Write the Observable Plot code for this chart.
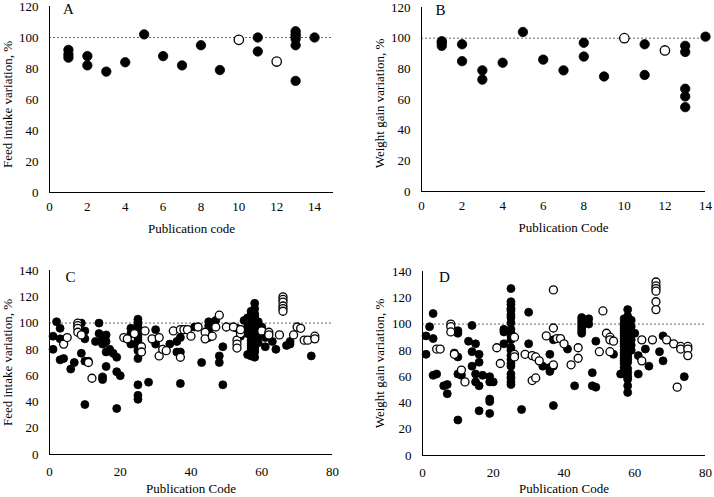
<!DOCTYPE html>
<html><head><meta charset="utf-8">
<script src="https://cdn.jsdelivr.net/npm/d3@7"></script>
<script src="https://cdn.jsdelivr.net/npm/@observablehq/plot@0.6"></script>
<style>
body{margin:0;background:#fff;}
#wrap{position:relative;width:714px;height:497px;background:#fff;overflow:hidden;}
#wrap svg{position:absolute;}
</style></head><body><div id="wrap"></div>
<script>
// ---------- tick labels ----------
const xTicksAB = [0,2,4,6,8,10,12,14];
const yTicksAB = [0,20,40,60,80,100,120];
const xTicksCD = [0,20,40,60,80];
const yTicksCD = [0,20,40,60,80,100,120,140];

// ---------- Panel A: feed intake (14 publications) ----------
const A_filled = [[1,92],[1,89],[1,87],[2,88],[2,82],[3,78],[4,84],[5,102],[6,88],[7,82],[8,95],[9,79],
  [11,100],[11,91],[13,104],[13,102],[13,101],[13,99],[13,95],[13,72],[14,100]];
const A_open = [[10,98.5],[12,84.5]];

// ---------- Panel B: weight gain (14 publications) ----------
const B_filled = [[1,98],[1,97],[1,95],[2,96],[2,85],[3,79],[3,73],[4,84],[5,104],[6,86],[7,79],[8,97],[8,88],
  [9,75],[11,96],[11,76],[13,95],[13,91],[13,67],[13,62],[13,55],[14,101]];
const B_open = [[10,100],[12,92]];

// ---------- Panel C: feed intake (75 publications) ----------
const C_filled = [[1,90],[1,80],[2,101],[3,96],[3,88],[3,72],[4,73],[6,65],[7,70],[9,100],[9,77],[10,94],[10,88],
  [10,71],[11,71],[10,38],[13,86],[14,100],[14,92],[15,89],[15,84],[15,59],[15,57],[16,91],[16,86],[16,78],[16,67],
  [17,80],[18,77],[19,74],[19,63],[20,60],[19,35],[23,96],[23,92],[23,84],
  [25,103],[25,101],[25,99],[25,97],[25,95],[25,93],[25,91],[25,89],[25,87],[25,85],[25,83],[25,81],[25,79],[25,73],
  [25,53],[25,45],[25,42],
  [28,55],[30,95],[30,84],[34,84],[36,78],[36,86],[37,89],[37,78],[37,54],[41,97],[43,70],[45,101],[45,98],[45,95],
  [45,92],[45,89],[47,102],[48,75],[48,70],[49,82],[49,53],[53,96],[54,90],[54,95],[55,102],[56,104],[56,97],[56,92],[56,76],
  [57,109],[57,106],[57,104],[57,102],[57,100],[57,99],[57,97],[57,96],[57,94],[57,92],[57,91],[57,89],[57,87],[57,85],
  [57,83],[57,81],[57,79],[57,77],[57,75],
  [58,115],[58,111],[58,107],[58,105],[58,103],[58,101],[58,100],[58,98],[58,97],[58,95],[58,93],[58,90],[58,88],[58,86],
  [58,84],[58,82],[58,80],[58,78],[58,74],
  [59,101],[59,96],[59,90],[59,85],[60,93],[60,97],[61,82],[61,89],[63,86],[64,80],[67,83],[68,84],[68,86],[74,75]];
const C_open = [[4,84],[5,89],[8,100],[8,98],[8,96],[8,93],[9,91],[11,70],[12,58],[21,89],[22,88],[24,92],[26,82],[26,78],
  [27,94],[29,88],[31,75],[31,89],[32,80],[33,79],[35,94],[37,95],[37,74],[38,95],[39,95],[40,90],[42,97],[44,93],[44,88],
  [46,90],[47,97],[48,106],[50,97],[52,97],[53,87],[53,84],[53,81],[54,92],[54,95],[60,94],[62,93],[62,91],[65,91],
  [66,120],[66,118],[66,116],[66,113],[66,111],[66,109],[69,91],[70,97],[71,96],[72,87],[73,87],[75,90],[75,88]];

// ---------- Panel D: weight gain (75 publications) ----------
const D_filled = [[1,91],[1,77],[2,98],[3,108],[3,89],[3,61],[4,62],[7,54],[7,47],[6,53],[9,78],[10,95],[10,93],[10,75],
  [10,62],[11,61],[10,27],[13,87],[14,99],[14,79],[14,68],[15,85],[15,62],[15,56],[16,77],[16,71],[16,53],[16,34],[17,61],
  [19,60],[19,56],[20,56],[19,43],[19,41],[19,32],[23,96],[23,94],[23,85],
  [25,127],[25,117],[25,115],[25,112],[25,110],[25,107],[25,105],[25,101],[25,96],[25,93],[25,91],[25,88],[25,82],[25,80],
  [25,76],[25,73],[25,70],[25,68],[25,62],[25,59],[25,56],[25,54],
  [28,35],[30,109],[30,85],[34,68],[36,77],[36,67],[36,64],[37,68],[37,88],[37,38],[41,81],[43,53],
  [45,105],[45,103],[45,101],[45,99],[45,97],[45,95],[45,93],[47,104],[47,100],
  [48,63],[48,53],[49,52],[49,87],[54,77],[56,62],
  [57,104],[57,101],[57,99],[57,97],[57,95],[57,93],[57,91],[57,89],[57,87],[57,85],[57,83],[57,80],[57,78],[57,76],
  [57,74],[57,72],[57,70],[57,67],[57,65],[57,62],
  [58,111],[58,106],[58,103],[58,100],[58,98],[58,96],[58,94],[58,92],[58,90],[58,88],[58,86],[58,84],[58,82],[58,79],
  [58,77],[58,75],[58,73],[58,71],[58,66],[58,63],[58,60],[58,58],[58,53],[58,48],
  [59,103],[59,98],[59,92],[59,88],[59,84],[59,80],
  [60,93],[61,76],[61,62],[63,81],[64,68],[67,79],[68,91],[68,72],[74,60]];
const D_open = [[8,100],[8,98],[8,94],[9,77],[4,81],[5,81],[11,65],[12,56],[21,82],[22,70],[26,90],[26,77],[26,75],
  [29,77],[31,76],[32,75],[33,72],[31,57],[32,59],[35,91],[37,126],[37,97],[37,69],[38,89],[39,89],[40,85],[42,69],
  [44,82],[44,74],[50,79],[51,110],[52,93],[53,90],[53,88],[53,79],[54,87],[62,88],[62,72],[65,88],
  [66,132],[66,129],[66,127],[66,125],[66,117],[66,111],[69,88],[71,85],[72,52],[73,83],[73,81],[75,83],[75,81],[75,76]];

const FONT = "'Liberation Serif','Times New Roman',serif";
const toObj = arr => arr.map(([x, y]) => ({x, y}));

function panel(c) {
  const svg = Plot.plot({
    width: c.w, height: c.h,
    marginLeft: c.ml, marginRight: c.mr, marginTop: c.mt, marginBottom: c.mb,
    style: {fontFamily: FONT, fontSize: "13px", color: "#000", background: "transparent", overflow: "visible"},
    x: {domain: [0, c.xmax]},
    y: {domain: [0, c.ymax]},
    marks: [
      Plot.ruleY([100], {stroke: "#666", strokeWidth: 1, strokeDasharray: "2,2"}),
      Plot.axisX({ticks: c.xticks, tickSize: 0, tickPadding: c.xpad, label: null, fontSize: 13}),
      Plot.axisY({ticks: c.yticks, tickSize: 0, tickPadding: 11, label: null, fontSize: 13}),
      Plot.ruleX([0], {stroke: "#000", strokeWidth: 1}),
      Plot.ruleY([0], {stroke: "#000", strokeWidth: 1}),
      Plot.dot(toObj(c.filled), {x: "x", y: "y", r: c.r, fill: "#000", stroke: "#000", strokeWidth: 0.8}),
      Plot.dot(toObj(c.open), {x: "x", y: "y", r: c.r, fill: "#fff", stroke: "#000", strokeWidth: 1.3}),
      Plot.text([c.xlabel], {frameAnchor: "bottom", textAnchor: "middle", lineAnchor: "middle", dy: c.xlDy, fontSize: 13, fill: "#000"}),
      Plot.text([c.ylabel], {frameAnchor: "left", textAnchor: "middle", lineAnchor: "middle", rotate: -90, dx: c.ylDx, dy: c.ylDy, fontSize: 13, fill: "#000"}),
      Plot.text([c.letter], {frameAnchor: "top-left", textAnchor: "middle", lineAnchor: "middle", dx: c.lDx, dy: c.lDy, fontSize: 15, fill: "#000"})
    ]
  });
  svg.style.left = c.left + "px";
  svg.style.top = c.top + "px";
  document.getElementById("wrap").appendChild(svg);
}

panel({left: 0, top: 0, w: 357, h: 245, ml: 49, mr: 24, mt: 6, mb: 53, xmax: 15, ymax: 120,
  xticks: xTicksAB, yticks: yTicksAB, filled: A_filled, open: A_open, r: 4.7, xpad: 9,
  xlabel: "Publication code", ylabel: "Feed intake variation, %", letter: "A",
  xlDy: 36, ylDx: -42, ylDy: 5, lDx: 19, lDy: 3});
panel({left: 357, top: 0, w: 357, h: 245, ml: 64, mr: 9, mt: 7, mb: 54, xmax: 14, ymax: 120,
  xticks: xTicksAB, yticks: yTicksAB, filled: B_filled, open: B_open, r: 4.7, xpad: 9,
  xlabel: "Publication Code", ylabel: "Weight gain variation, %", letter: "B",
  xlDy: 36, ylDx: -42, ylDy: 4, lDx: 19, lDy: 3});
panel({left: 0, top: 250, w: 357, h: 247, ml: 49, mr: 25, mt: 20, mb: 43, xmax: 80, ymax: 140,
  xticks: xTicksCD, yticks: yTicksCD, filled: C_filled, open: C_open, r: 4, xpad: 12,
  xlabel: "Publication Code", ylabel: "Feed intake variation, %", letter: "C",
  xlDy: 34.5, ylDx: -42, ylDy: 0, lDx: 21, lDy: 7});
panel({left: 357, top: 250, w: 357, h: 247, ml: 65, mr: 9, mt: 21, mb: 42, xmax: 80, ymax: 140,
  xticks: xTicksCD, yticks: yTicksCD, filled: D_filled, open: D_open, r: 4, xpad: 12,
  xlabel: "Publication Code", ylabel: "Weight gain variation, %", letter: "D",
  xlDy: 33.5, ylDx: -42.5, ylDy: 0, lDx: 22, lDy: 6});
</script></body></html>
